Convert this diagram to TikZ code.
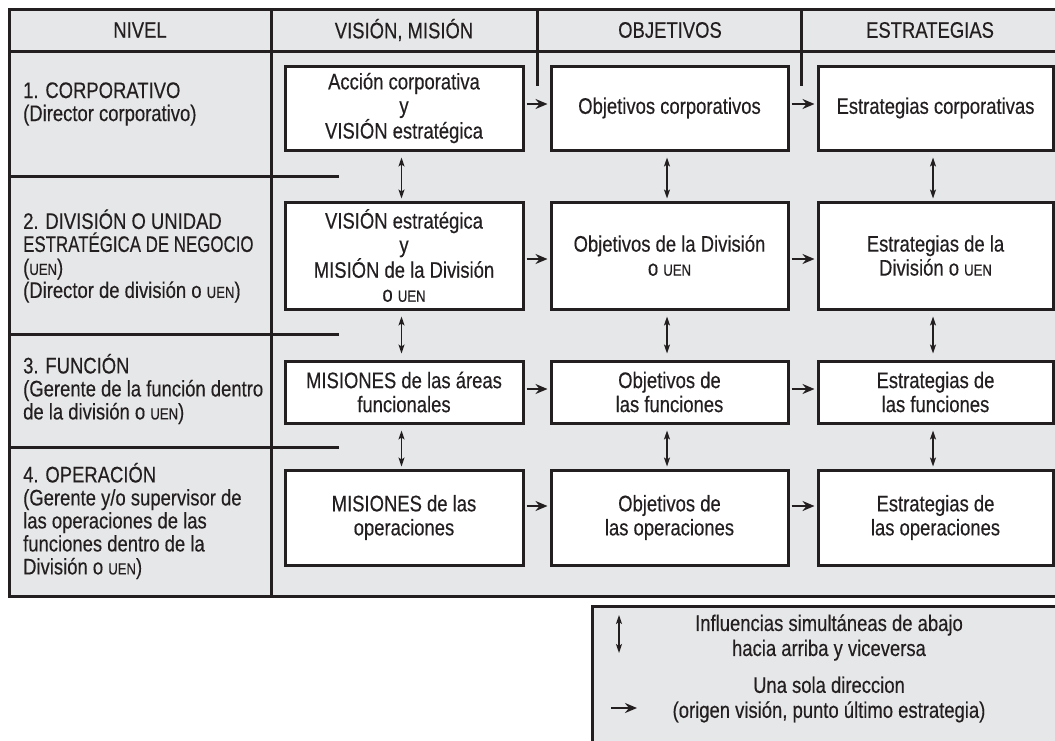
\documentclass[tikz,border=0pt]{standalone}
\usepackage{fontspec}
\setmainfont{Liberation Sans}[FakeStretch=0.82,FakeBold=0.35]
\newfontfamily\narrowf{Liberation Sans}[FakeStretch=0.75,FakeBold=0.35]
\usetikzlibrary{arrows.meta}
\definecolor{bg}{RGB}{230,231,232}
\definecolor{ink}{RGB}{35,31,32}
\newcommand{\uen}{{\fontsize{16}{16}\selectfont UEN}}
\begin{document}
\begin{tikzpicture}[x=1pt,y=-1pt,
  txt/.style={text=ink,font=\fontsize{22.5}{24}\selectfont,align=center,inner sep=0},
  lft/.style={text=ink,font=\fontsize{22.5}{23}\selectfont,align=left,inner sep=0,anchor=west},
  box/.style={draw=ink,line width=3pt,fill=white,text=ink,font=\fontsize{22.5}{24}\selectfont,align=center,inner sep=0},
  frame/.style={draw=ink,line width=3pt},
  flow/.style={draw=ink,line width=2pt,-{Stealth[length=12pt,width=10pt,inset=4pt]}},
  both/.style={draw=ink,line width=1.3pt,{Stealth[length=9pt,width=6pt,inset=2pt]}-{Stealth[length=9pt,width=6pt,inset=2pt]}}]
\useasboundingbox (0,0) rectangle (1055,740);
\clip (0,0) rectangle (1055,740);
\fill[white] (0,0) rectangle (1055,740);
% main frame
\path[frame,fill=bg] (9,9) rectangle (1080,596);
\draw[frame] (9,51) -- (1080,51);
\draw[frame] (271,9) -- (271,596);
\draw[frame] (537.7,9) -- (537.7,86);
\draw[frame] (801.7,9) -- (801.7,86);
\draw[frame] (9,176) -- (339,176);
\draw[frame] (9,334) -- (339,334);
\draw[frame] (9,447) -- (339,447);
% headers
\node[txt] (h1) at (140,30) {NIVEL};
\node[txt] (h2) at (404,30) {VISIÓN, MISIÓN};
\node[txt] (h3) at (670,30) {OBJETIVOS};
\node[txt] (h4) at (930,30) {ESTRATEGIAS};
% level texts
\node[lft] (n1) at (23,104) {1. CORPORATIVO\\(Director corporativo)};
\node[lft] (n2) at (23,256) {2. DIVISIÓN O UNIDAD\\{\narrowf ESTRATÉGICA DE NEGOCIO}\\(\uen)\\(Director de división o \uen)};
\node[lft] (n3) at (23,389) {3. FUNCIÓN\\(Gerente de la función dentro\\de la división o \uen)};
\node[lft] (n4) at (23,521) {4. OPERACIÓN\\(Gerente y/o supervisor de\\las operaciones de las\\funciones dentro de la\\División o \uen)};
% boxes
\node[box,minimum width=238pt,minimum height=84pt] (b11) at (404,108) {Acción corporativa\\y\\VISIÓN estratégica};
\node[box,minimum width=237pt,minimum height=84pt] (b12) at (669.5,108) {Objetivos corporativos};
\node[box,minimum width=235pt,minimum height=84pt] (b13) at (935.5,108) {Estrategias corporativas};
\node[box,minimum width=238pt,minimum height=107pt] (b21) at (404,255.5) {VISIÓN estratégica\\y\\MISIÓN de la División\\o \uen};
\node[box,minimum width=237pt,minimum height=107pt] (b22) at (669.5,255.5) {Objetivos de la División\\o \uen};
\node[box,minimum width=235pt,minimum height=107pt] (b23) at (935.5,255.5) {Estrategias de la\\División o \uen};
\node[box,minimum width=238pt,minimum height=62pt] (b31) at (404,392) {MISIONES de las áreas\\funcionales};
\node[box,minimum width=237pt,minimum height=62pt] (b32) at (669.5,392) {Objetivos de\\las funciones};
\node[box,minimum width=235pt,minimum height=62pt] (b33) at (935.5,392) {Estrategias de\\las funciones};
\node[box,minimum width=238pt,minimum height=95pt] (b41) at (404,517.5) {MISIONES de las\\operaciones};
\node[box,minimum width=237pt,minimum height=95pt] (b42) at (669.5,517.5) {Objetivos de\\las operaciones};
\node[box,minimum width=235pt,minimum height=95pt] (b43) at (935.5,517.5) {Estrategias de\\las operaciones};
% horizontal flows
\draw[flow,shorten <=2pt,shorten >=2pt] ([yshift=4pt]b11.east) -- ([yshift=4pt]b12.west);
\draw[flow,shorten <=2pt,shorten >=2pt] ([yshift=4pt]b12.east) -- ([yshift=4pt]b13.west);
\draw[flow,shorten <=2pt,shorten >=2pt] ([yshift=-3.5pt]b21.east) -- ([yshift=-3.5pt]b22.west);
\draw[flow,shorten <=2pt,shorten >=2pt] ([yshift=-3.5pt]b22.east) -- ([yshift=-3.5pt]b23.west);
\draw[flow,shorten <=2pt,shorten >=2pt] ([yshift=3pt]b31.east) -- ([yshift=3pt]b32.west);
\draw[flow,shorten <=2pt,shorten >=2pt] ([yshift=3pt]b32.east) -- ([yshift=3pt]b33.west);
\draw[flow,shorten <=2pt,shorten >=2pt] ([yshift=11.5pt]b41.east) -- ([yshift=11.5pt]b42.west);
\draw[flow,shorten <=2pt,shorten >=2pt] ([yshift=11.5pt]b42.east) -- ([yshift=11.5pt]b43.west);
% vertical influences
\foreach \c in {1,2,3}{
  \draw[both,shorten <=6pt,shorten >=2pt] ([xshift=-2.5pt]b1\c.south) -- ([xshift=-2.5pt]b2\c.north);
  \draw[both,shorten <=6pt,shorten >=6pt] ([xshift=-2.5pt]b2\c.south) -- ([xshift=-2.5pt]b3\c.north);
  \draw[both,shorten <=6pt,shorten >=2pt] ([xshift=-2.5pt]b3\c.south) -- ([xshift=-2.5pt]b4\c.north);
}
% legend
\path[frame,fill=bg] (592,606) rectangle (1080,760);
\coordinate (la1) at (619,615);
\coordinate (la2) at (619,653);
\coordinate (lb1) at (611,708);
\coordinate (lb2) at (637,708);
\draw[both] (la1) -- (la2);
\draw[flow] (lb1) -- (lb2);
\node[txt,font=\fontsize{22.5}{25}\selectfont] (lt1) at (829,637.5) {Influencias simultáneas de abajo\\hacia arriba y viceversa};
\node[txt,font=\fontsize{22.5}{25}\selectfont] (lt2) at (829,699.5) {Una sola direccion\\(origen visión, punto último estrategia)};
\end{tikzpicture}
\end{document}
